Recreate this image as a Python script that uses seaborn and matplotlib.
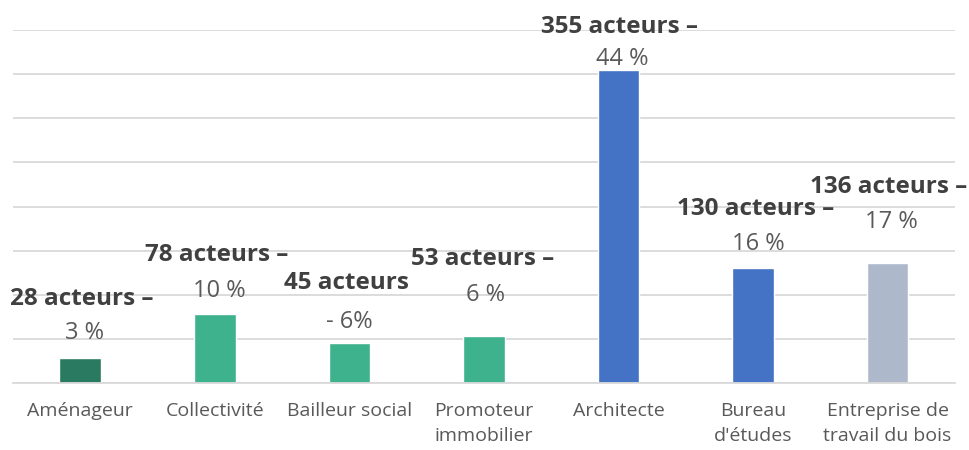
import matplotlib
matplotlib.use("Agg")
import matplotlib.pyplot as plt
import seaborn as sns
import pandas as pd

# data
categories = ["Aménageur", "Collectivité", "Bailleur social", "Promoteur\nimmobilier",
              "Architecte", "Bureau\nd'études", "Entreprise de\ntravail du bois"]
acteurs = [28, 78, 45, 53, 355, 130, 136]
count_labels = ["28 acteurs –", "78 acteurs –", "45 acteurs", "53 acteurs –",
                "355 acteurs –", "130 acteurs –", "136 acteurs –"]
pct_labels = ["3 %", "10 %", "- 6%", "6 %", "44 %", "16 %", "17 %"]

colors = ["#2a7a62", "#3db28c", "#3db28c", "#3db28c", "#4472c4", "#4472c4", "#adb9ca"]
# label offsets above the bar top (points): percent line, bold line
pct_off = [18.5, 16.5, 15.5, 29.5, 7.5, 17.5, 29.5]
cnt_off = [42.5, 42.5, 43.5, 55.5, 31, 42.5, 54.5]
dx = [3, 3, 0, 1, 3, 4, 3]

df = pd.DataFrame({"cat": categories, "n": acteurs})

sns.set_style("white")
plt.rcParams["font.family"] = ["Open Sans", "DejaVu Sans"]

fig = plt.figure(figsize=(9.69, 4.5), dpi=100)
ax = fig.add_axes([0.0134, 0.149, 0.972, 0.784])

sns.barplot(data=df, x="cat", y="n", hue="cat", palette=colors, legend=False,
            width=0.31, saturation=1, ax=ax)

ax.set_ylim(0, 400)
ax.set_yticks(range(0, 401, 50))
ax.yaxis.grid(True, color="#d9d9d9", lw=1.3)
ax.set_axisbelow(True)
ax.set_yticklabels([])
ax.tick_params(axis="both", length=0)
ax.tick_params(axis="x", labelsize=14, labelcolor="#595959", pad=14)
for s in ["top", "right", "left"]:
    ax.spines[s].set_visible(False)
ax.spines["bottom"].set_color("#d9d9d9")
ax.spines["bottom"].set_linewidth(1.3)
ax.set_xlabel("")
ax.set_ylabel("")
for lbl in ax.get_xticklabels():
    lbl.set_va("top")
    lbl.set_linespacing(1.45)

for i, v in enumerate(acteurs):
    ax.annotate(pct_labels[i], (i, v), xytext=(dx[i], pct_off[i]), textcoords="offset points",
                ha="center", va="center", fontsize=17, color="#595959", annotation_clip=False)
    ax.annotate(count_labels[i], (i, v), xytext=(dx[i] - 2, cnt_off[i]), textcoords="offset points",
                ha="center", va="center", fontsize=17.5, fontweight="bold", color="#404040",
                annotation_clip=False)

fig.savefig("out.png", dpi=100)
